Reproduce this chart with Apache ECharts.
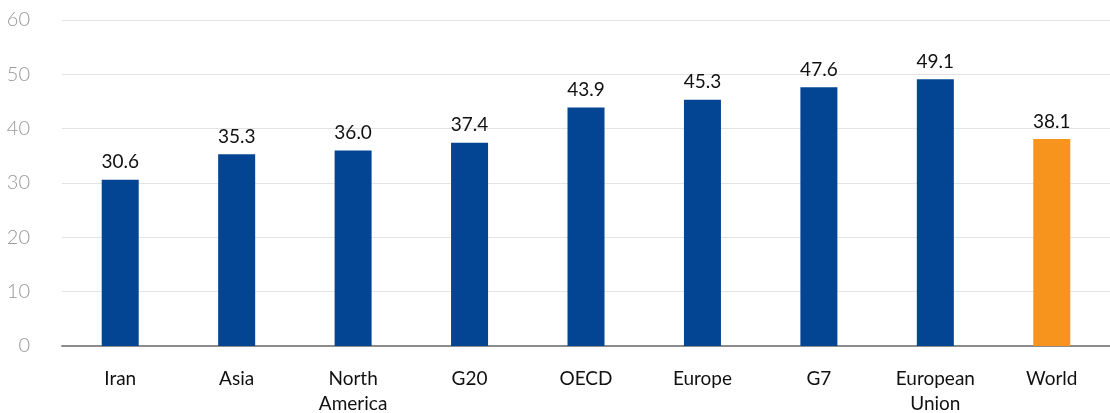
<!DOCTYPE html>
<html><head><meta charset="utf-8">
<script src="https://cdn.jsdelivr.net/npm/echarts@6/dist/echarts.min.js"></script>
<style>html,body{margin:0;padding:0;background:#fff}#c{width:1110px;height:413px}</style>
</head><body><div id="c"></div>
<script>
const categories = ["Iran", "Asia", "North\nAmerica", "G20", "OECD", "Europe", "G7", "European\nUnion", "World"];
const values = [30.6, 35.3, 36.0, 37.4, 43.9, 45.3, 47.6, 49.1, 38.1];
const highlight = ["World"];
const BLUE = "#034493", ORANGE = "#F7941D";
const chart = echarts.init(document.getElementById('c'), null, {renderer: 'canvas'});
chart.setOption({
  animation: false,
  grid: {left: 62, right: 0, top: 20, bottom: 67, containLabel: false, outerBoundsMode: 'none'},
  xAxis: {
    type: 'category', data: categories,
    axisLine: {lineStyle: {color: '#8c8c8c', width: 2}},
    axisTick: {show: false},
    axisLabel: {color: '#111', fontFamily: 'Lato', fontSize: 19, margin: 20, lineHeight: 25, interval: 0}
  },
  yAxis: {
    type: 'value', min: 0, max: 60, interval: 10,
    axisLine: {show: false}, axisTick: {show: false},
    splitLine: {lineStyle: {color: '#e3e3e3', width: 1}},
    axisLabel: {color: '#999', fontFamily: 'Lato', fontWeight: 300, fontSize: 20, margin: 32}
  },
  series: [{
    type: 'bar', barWidth: 37,
    data: values.map((v, i) => ({value: v, itemStyle: {color: highlight.includes(categories[i]) ? ORANGE : BLUE}})),
    label: {show: true, position: 'top', distance: 8, color: '#111', fontFamily: 'Lato', fontSize: 19,
      formatter: p => p.value.toFixed(1)}
  }]
});
</script></body></html>
